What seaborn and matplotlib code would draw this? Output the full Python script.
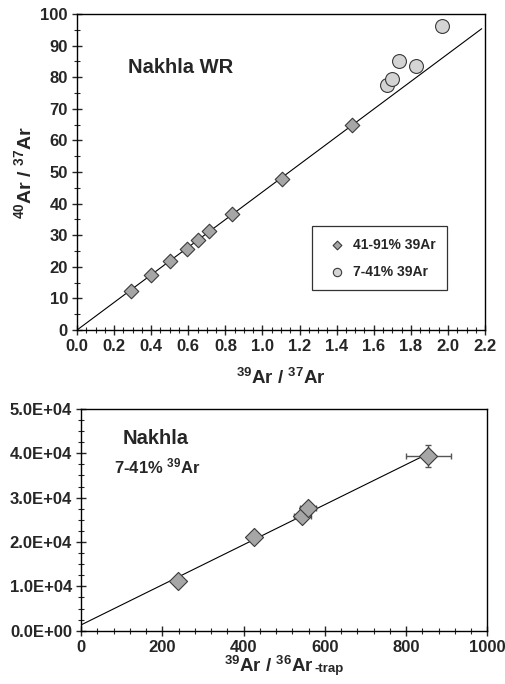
import matplotlib
matplotlib.use("Agg")
import matplotlib.pyplot as plt
import numpy as np
import pandas as pd
import seaborn as sns
from matplotlib.ticker import MultipleLocator, FormatStrFormatter, FuncFormatter
from matplotlib.offsetbox import TextArea, HPacker, AnchoredOffsetbox

# --- Nakhla whole-rock isochron (top panel) ---
hi_x = [0.29, 0.40, 0.50, 0.595, 0.65, 0.713, 0.837, 1.107, 1.482]   # 39Ar/37Ar, 41-91% 39Ar
hi_y = [12.4, 17.4, 21.9, 25.7, 28.4, 31.3, 36.7, 47.8, 64.8]        # 40Ar/37Ar
lo_x = [1.671, 1.696, 1.737, 1.827, 1.969]                            # 7-41% 39Ar
lo_y = [77.5, 79.5, 85.1, 83.6, 96.2]
fit1_slope, fit1_icpt = 43.7, 0.0
fit1_xr = [0.0, 2.182]

# --- Nakhla 7-41% 39Ar isochron (bottom panel) ---
tr_x = [238, 426, 545, 559, 855]                         # 39Ar/36Ar-trap
tr_y = [11150, 21100, 25800, 27600, 39300]
tr_xerr = [6, 8, 20, 20, 55]
tr_yerr = [400, 500, 700, 700, 2500]
fit2_slope, fit2_icpt = 45.2, 1300.0
fit2_xr = [0.0, 856.0]

sns.set_style("ticks")
plt.rcParams["font.family"] = ["Liberation Sans", "DejaVu Sans"]
plt.rcParams["font.weight"] = "bold"
plt.rcParams["mathtext.fontset"] = "custom"
plt.rcParams["mathtext.rm"] = "Liberation Sans:bold"
plt.rcParams["mathtext.bf"] = "Liberation Sans:bold"
plt.rcParams["mathtext.it"] = "Liberation Sans:bold"
plt.rcParams["mathtext.default"] = "bf"

fig = plt.figure(figsize=(5.05, 6.84), dpi=100)
ax1 = fig.add_axes([0.1525, 0.5175, 0.808, 0.462])
ax2 = fig.add_axes([0.1604, 0.0779, 0.8046, 0.3243])

diam_fc = "#a6a6a6"
circ_fc = "#d4d4d4"
edge = "#3a3a3a"

# top panel
d1 = pd.DataFrame({"x": fit1_xr, "y": [fit1_icpt + fit1_slope * v for v in fit1_xr]})
sns.lineplot(data=d1, x="x", y="y", ax=ax1, color="black", lw=0.8)
sns.scatterplot(x=hi_x, y=hi_y, ax=ax1, marker="D", s=55, color=diam_fc,
                edgecolor=edge, linewidth=0.8, label="41-91% 39Ar", zorder=3)
sns.scatterplot(x=lo_x, y=lo_y, ax=ax1, marker="o", s=100, color=circ_fc,
                edgecolor=edge, linewidth=0.8, label="7-41% 39Ar", zorder=3)
ax1.set_xlim(0, 2.2)
ax1.set_ylim(0, 100)
ax1.xaxis.set_major_locator(MultipleLocator(0.2))
ax1.xaxis.set_minor_locator(MultipleLocator(0.05))
ax1.yaxis.set_major_locator(MultipleLocator(10))
ax1.yaxis.set_minor_locator(MultipleLocator(5))
ax1.xaxis.set_major_formatter(FormatStrFormatter("%.1f"))
ax1.set_xlabel(r"$^{39}$Ar / $^{37}$Ar", fontsize=13.5, fontweight="bold", labelpad=10)
ax1.set_ylabel(r"$^{40}$Ar / $^{37}$Ar", fontsize=14, fontweight="bold", labelpad=4)
ax1.text(0.125, 0.83, "Nakhla WR", transform=ax1.transAxes, fontsize=14.5,
         fontweight="bold", va="center", ha="left")
leg = ax1.legend(loc="lower right", bbox_to_anchor=(0.907, 0.127), frameon=True,
                 fancybox=False, edgecolor="black", fontsize=10, handletextpad=0.2,
                 borderpad=0.8, labelspacing=0.95, handlelength=2.0, markerscale=0.6,
                 borderaxespad=0.0)
leg.get_frame().set_linewidth(0.9)
for t in leg.get_texts():
    t.set_fontweight("bold")

# bottom panel
d2 = pd.DataFrame({"x": fit2_xr, "y": [fit2_icpt + fit2_slope * v for v in fit2_xr]})
sns.lineplot(data=d2, x="x", y="y", ax=ax2, color="black", lw=0.8)
ax2.errorbar(tr_x, tr_y, xerr=tr_xerr, yerr=tr_yerr, fmt="none", ecolor="#555555",
             elinewidth=1.0, capsize=2.5, capthick=1.0, zorder=2)
sns.scatterplot(x=tr_x, y=tr_y, ax=ax2, marker="D", s=85, color=diam_fc,
                edgecolor=edge, linewidth=0.8, zorder=3, legend=False)
ax2.set_xlim(0, 1000)
ax2.set_ylim(0, 50000)
ax2.xaxis.set_major_locator(MultipleLocator(200))
ax2.xaxis.set_minor_locator(MultipleLocator(40))
ax2.yaxis.set_major_locator(MultipleLocator(10000))
ax2.yaxis.set_minor_locator(MultipleLocator(2500))
ax2.yaxis.set_major_formatter(FuncFormatter(lambda v, p: "%.1fE+%02d" % (v / 1e4, 4) if v > 0 else "0.0E+00"))
ax2.set_xlabel("")
ax2.set_ylabel("")

# x label with a smaller "-trap" suffix on the same baseline
lab_main = TextArea(r"$^{39}$Ar / $^{36}$Ar",
                    textprops=dict(fontsize=13.5, fontweight="bold"))
lab_suffix = TextArea("-trap", textprops=dict(fontsize=9.5, fontweight="bold"))
lab_box = HPacker(children=[lab_main, lab_suffix], align="baseline", pad=0, sep=0.5)
anch = AnchoredOffsetbox(loc="upper center", child=lab_box, frameon=False, pad=0,
                         bbox_to_anchor=(0.5, -0.115), bbox_transform=ax2.transAxes,
                         borderpad=0)
ax2.add_artist(anch)

ax2.text(0.103, 0.867, "Nakhla", transform=ax2.transAxes, fontsize=14.5,
         fontweight="bold", va="center", ha="left")
ax2.text(0.08, 0.742, r"7-41% $^{39}$Ar", transform=ax2.transAxes, fontsize=12,
         fontweight="bold", va="center", ha="left")

for ax in (ax1, ax2):
    for s in ax.spines.values():
        s.set_visible(True)
        s.set_linewidth(1.0)
        s.set_color("black")
    ax.tick_params(which="major", direction="inout", length=7, width=1.0,
                   labelsize=12, pad=3, top=False, right=False)
    ax.tick_params(which="minor", direction="inout", length=5, width=0.8,
                   top=False, right=False)
    for lab in ax.get_xticklabels() + ax.get_yticklabels():
        lab.set_fontweight("bold")

fig.savefig("out.png", dpi=100)
